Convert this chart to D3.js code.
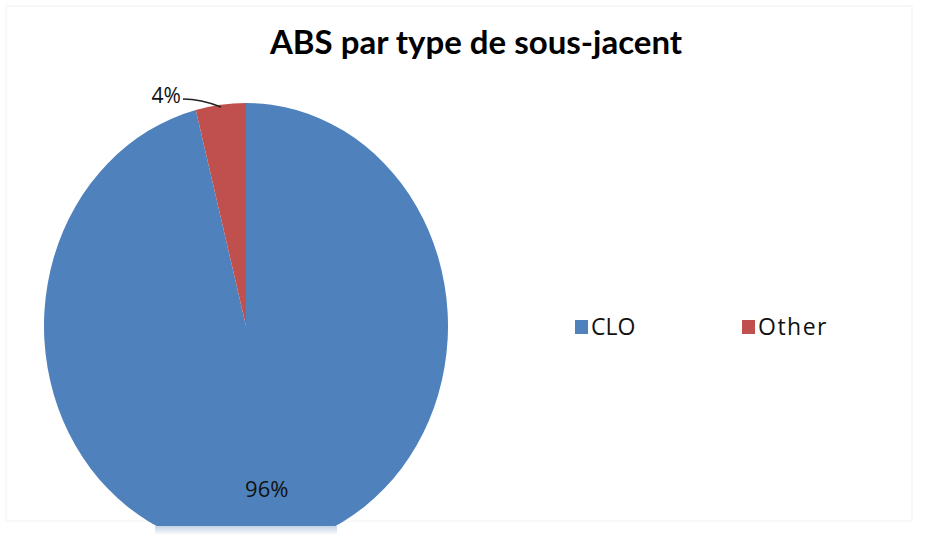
<!DOCTYPE html>
<html>
<head>
<meta charset="utf-8">
<script src="https://cdn.jsdelivr.net/npm/d3@7"></script>
<style>
  html, body { margin: 0; padding: 0; background: #fff; }
  svg { display: block; }
</style>
</head>
<body>
<svg id="chart" width="926" height="537"></svg>
<script>
// ── Data ──
const categories = ["CLO", "Other"];
const shares = [96, 4];
const colors = ["#4F81BD", "#C0504D"];
const title = "ABS par type de sous-jacent";

const W = 926, H = 537;
const svg = d3.select("#chart");
const defs = svg.append("defs");

// faint frame, like the pasted chart area
svg.append("rect").attr("x", 6).attr("y", 6).attr("width", W - 20).attr("height", H - 22)
  .attr("fill", "none").attr("stroke", "#f2f2f2").attr("stroke-width", 1);

svg.append("text")
  .attr("x", 476).attr("y", 54)
  .attr("text-anchor", "middle")
  .style("font-family", "Lato, 'Open Sans', sans-serif")
  .style("font-weight", "700")
  .style("font-size", "33px")
  .style("fill", "#000")
  .text(title);

// ── Pie (drawn as an ellipse: circle scaled vertically) ──
const cx = 246, cy = 326, rx = 202, ry = 223;
const data = categories.map((c, i) => ({ name: c, value: shares[i], color: colors[i] }));
const pie = d3.pie().value(d => d.value).sort(null);
const arcs = pie(data);
const arc = d3.arc().innerRadius(0).outerRadius(rx);

defs.append("clipPath").attr("id", "clip")
  .append("rect").attr("x", 0).attr("y", 0).attr("width", W).attr("height", 526);

const gPie = svg.append("g").attr("clip-path", "url(#clip)")
  .append("g")
  .attr("transform", `translate(${cx},${cy}) scale(1,${ry / rx})`);

gPie.selectAll("path").data(arcs).join("path")
  .attr("d", arc)
  .attr("fill", d => d.data.color)
  .attr("stroke", "none");

// fade below the clipped bottom edge
const grad = defs.append("linearGradient").attr("id", "fade")
  .attr("x1", 0).attr("x2", 0).attr("y1", 0).attr("y2", 1);
grad.append("stop").attr("offset", "0%").attr("stop-color", "#a9bfdc");
grad.append("stop").attr("offset", "100%").attr("stop-color", "#ffffff");
svg.append("rect").attr("x", 155).attr("y", 526).attr("width", 182).attr("height", 9)
  .attr("fill", "url(#fade)").attr("opacity", 0.7);

// ── Data labels ──
const pt = (a, k) => [cx + Math.sin(a) * rx * k, cy - Math.cos(a) * ry * k];
const labelFont = "'Open Sans', 'DejaVu Sans', sans-serif";

// CLO label inside, near bottom
const aClo = (arcs[0].startAngle + arcs[0].endAngle) / 2;
const pClo = pt(aClo, 0.74);
svg.append("text")
  .attr("x", pClo[0] + 2).attr("y", pClo[1])
  .attr("text-anchor", "middle").attr("dy", "0.35em")
  .style("font-family", labelFont).style("font-size", "22px").style("fill", "#111")
  .text(`${shares[0]}%`);

// Other label outside with leader line
const aOth = (arcs[1].startAngle + arcs[1].endAngle) / 2;
const pEdge = pt(aOth, 0.99);
svg.append("path")
  .attr("d", `M${pEdge[0]},${pEdge[1]} Q${pEdge[0] - 20},${pEdge[1] - 8} ${pEdge[0] - 38},${pEdge[1] - 8}`)
  .attr("fill", "none").attr("stroke", "#222").attr("stroke-width", 1.6);
svg.append("text")
  .attr("x", pEdge[0] - 40).attr("y", pEdge[1] - 11)
  .attr("text-anchor", "end").attr("dy", "0.35em")
  .style("font-family", labelFont).style("font-size", "21px").style("fill", "#111")
  .text(`${shares[1]}%`);

// ── Legend ──
const legendX = d3.scalePoint().domain(categories).range([575, 742]);
const lg = svg.selectAll(".lg").data(data).join("g").attr("class", "lg")
  .attr("transform", d => `translate(${legendX(d.name)},327)`);
lg.append("rect").attr("x", 0).attr("y", -7).attr("width", 13).attr("height", 14)
  .attr("fill", d => d.color);
lg.append("text").attr("x", 16).attr("dy", "0.36em")
  .style("font-family", labelFont).style("font-size", "23px").style("fill", "#111")
  .style("letter-spacing", d => d.name === "Other" ? "1.5px" : "0px")
  .text(d => d.name);
</script>
</body>
</html>
